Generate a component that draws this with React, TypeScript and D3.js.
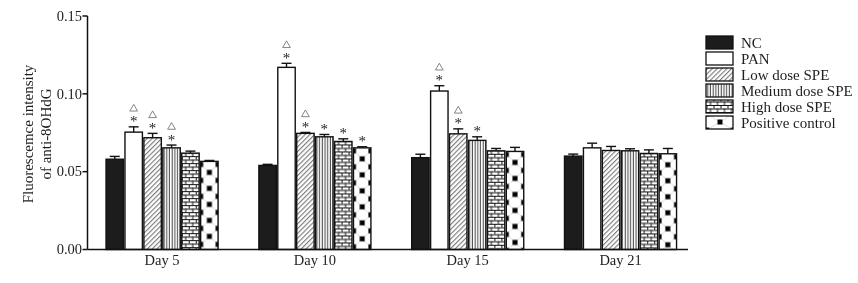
import React from 'react';
import * as d3 from 'd3';

const days = ['Day 5', 'Day 10', 'Day 15', 'Day 21'];
const seriesNames = ['NC', 'PAN', 'Low dose SPE', 'Medium dose SPE', 'High dose SPE', 'Positive control'];
const seriesKeys = ['nc', 'pan', 'low', 'med', 'high', 'pos'];

const ncValues = [0.058, 0.054, 0.059, 0.060];
const panValues = [0.0754, 0.117, 0.1018, 0.0653];
const lowValues = [0.0718, 0.0746, 0.0743, 0.0636];
const medValues = [0.0653, 0.0724, 0.0701, 0.0634];
const highValues = [0.0619, 0.0694, 0.0634, 0.0617];
const posValues = [0.0566, 0.0653, 0.063, 0.0615];

const ncErr = [0.0018, 0.0007, 0.0022, 0.0013];
const panErr = [0.0034, 0.0026, 0.0034, 0.003];
const lowErr = [0.0028, 0.0006, 0.0032, 0.0026];
const medErr = [0.0018, 0.0015, 0.0023, 0.0013];
const highErr = [0.0013, 0.0017, 0.0015, 0.0023];
const posErr = [0.0006, 0.0007, 0.0026, 0.0034];

// significance markers: * and triangle
const ncStar = [0, 0, 0, 0];
const panStar = [1, 1, 1, 0];
const lowStar = [1, 1, 1, 0];
const medStar = [1, 1, 1, 0];
const highStar = [0, 1, 0, 0];
const posStar = [0, 1, 0, 0];

const ncTri = [0, 0, 0, 0];
const panTri = [1, 1, 1, 0];
const lowTri = [1, 1, 1, 0];
const medTri = [1, 0, 0, 0];
const highTri = [0, 0, 0, 0];
const posTri = [0, 0, 0, 0];

const yTicks = [0, 0.05, 0.1, 0.15];
const yTickLabels = ['0.00', '0.05', '0.10', '0.15'];
const yLabelLines = ['Fluorescemce intensity', 'of anti-8OHdG'];

const values = [ncValues, panValues, lowValues, medValues, highValues, posValues];
const errs = [ncErr, panErr, lowErr, medErr, highErr, posErr];
const stars = [ncStar, panStar, lowStar, medStar, highStar, posStar];
const tris = [ncTri, panTri, lowTri, medTri, highTri, posTri];

const W = 858;
const H = 283;
const FONT = '"Liberation Serif", "Times New Roman", serif';
const TEXT = '#1e1e1e';

function PatternContent({ k, w, h }: { k: string; w: number; h: number }) {
  if (k === 'low') {
    return (
      <>
        <rect width={w} height={h} fill="#fff" />
        <line x1={1.5} y1={0} x2={1.5} y2={h} stroke="#444" strokeWidth={0.8} />
      </>
    );
  }
  if (k === 'med') {
    return (
      <>
        <rect width={w} height={h} fill="#fff" />
        <line x1={1.2} y1={0} x2={1.2} y2={h} stroke="#222" strokeWidth={0.9} />
      </>
    );
  }
  if (k === 'high') {
    return (
      <>
        <rect width={w} height={h} fill="#fff" />
        <line x1={0} y1={0.5} x2={w} y2={0.5} stroke="#111" strokeWidth={1} />
        <line x1={0} y1={h / 2 + 0.5} x2={w} y2={h / 2 + 0.5} stroke="#111" strokeWidth={1} />
        <line x1={0.5} y1={0} x2={0.5} y2={h / 2} stroke="#111" strokeWidth={1} />
        <line x1={w / 2 + 0.5} y1={h / 2} x2={w / 2 + 0.5} y2={h} stroke="#111" strokeWidth={1} />
      </>
    );
  }
  if (k === 'pos') {
    const s = 5;
    return (
      <>
        <rect width={w} height={h} fill="#fff" />
        <path
          d={`M0,0L${w / 2},${h / 2}L${w},0M0,${h}L${w / 2},${h / 2}L${w},${h}`}
          stroke="#c4c4c4"
          strokeWidth={0.6}
          fill="none"
        />
        {[
          [0, 0],
          [w, 0],
          [0, h],
          [w, h],
          [w / 2, h / 2],
        ].map(([cx, cy], i) => (
          <rect key={i} x={cx - s / 2} y={cy - s / 2} width={s} height={s} fill="#000" />
        ))}
      </>
    );
  }
  return null;
}

function makePattern(id: string, k: string, x: number, y: number, bw: number) {
  if (k === 'low') {
    return (
      <pattern key={id} id={id} patternUnits="userSpaceOnUse" width={3.4} height={3.4} patternTransform="rotate(45)">
        <PatternContent k={k} w={3.4} h={3.4} />
      </pattern>
    );
  }
  if (k === 'med') {
    return (
      <pattern key={id} id={id} x={x} y={y} patternUnits="userSpaceOnUse" width={2.7} height={10}>
        <PatternContent k={k} w={2.7} h={10} />
      </pattern>
    );
  }
  if (k === 'high') {
    return (
      <pattern key={id} id={id} x={x} y={y} patternUnits="userSpaceOnUse" width={7} height={7}>
        <PatternContent k={k} w={7} h={7} />
      </pattern>
    );
  }
  if (k === 'pos') {
    return (
      <pattern key={id} id={id} x={x} y={y} patternUnits="userSpaceOnUse" width={bw} height={16}>
        <PatternContent k={k} w={bw} h={16} />
      </pattern>
    );
  }
  return null;
}

function fillFor(k: string, id: string) {
  if (k === 'nc') return '#1c1c1c';
  if (k === 'pan') return '#fff';
  return `url(#${id})`;
}

export default function App() {
  const axisX = 87.5;
  const axisRight = 688;
  const y = d3.scaleLinear().domain([0, 0.15]).range([249.5, 16]);
  const x0 = d3.scaleBand<string>().domain(days).range([105.3, 677.3]).paddingInner(0.257).paddingOuter(0);
  const x1 = d3.scaleBand<string>().domain(seriesKeys).range([0, x0.bandwidth()]).padding(0);
  const bw = x1.bandwidth();

  const defs: React.ReactNode[] = [];
  const bars: React.ReactNode[] = [];
  const errBars: React.ReactNode[] = [];
  const marks: React.ReactNode[] = [];
  const triSym = d3.symbol().type(d3.symbolTriangle).size(26)();

  days.forEach((day, di) => {
    seriesKeys.forEach((k, si) => {
      const v = values[si][di];
      const e = errs[si][di];
      const bx = (x0(day) ?? 0) + (x1(k) ?? 0);
      const by = y(v);
      const id = `p-${k}-${di}`;
      const pat = makePattern(id, k, bx + 0.75, by + 3, bw - 1.5);
      if (pat) defs.push(pat);
      bars.push(
        <rect
          key={id}
          x={bx + 0.75}
          y={by}
          width={bw - 1.5}
          height={y(0) - by}
          fill={fillFor(k, id)}
          stroke="#111"
          strokeWidth={1.4}
        />
      );
      const cx = bx + bw / 2;
      const ey = y(v + e);
      errBars.push(
        <g key={`e-${id}`} stroke="#111" strokeWidth={1.4}>
          <line x1={cx} x2={cx} y1={by} y2={ey} />
          <line x1={cx - 5} x2={cx + 5} y1={ey} y2={ey} />
        </g>
      );
      if (stars[si][di]) {
        marks.push(
          <text
            key={`s-${id}`}
            x={cx}
            y={ey - 7.5 + 7}
            textAnchor="middle"
            fontFamily={FONT}
            fontSize={15}
            fill="#222"
          >
            *
          </text>
        );
      }
      if (tris[si][di]) {
        marks.push(
          <path
            key={`t-${id}`}
            d={triSym ?? ''}
            transform={`translate(${cx},${ey - 18})`}
            fill="none"
            stroke="#777"
            strokeWidth={0.9}
          />
        );
      }
    });
  });

  const legendX = 706;
  const legendY0 = 42.5;
  const legendStep = 16;
  const swW = 27;
  const swH = 13;

  seriesKeys.forEach((k, i) => {
    const id = `lg-${k}`;
    const sy = legendY0 + i * legendStep - swH / 2;
    const pat = makePattern(id, k, legendX + 0.5, sy - 2, swW);
    if (pat) defs.push(pat);
  });

  return (
    <svg
      width={W}
      height={H}
      viewBox={`0 0 ${W} ${H}`}
      style={{ position: 'absolute', left: 0, top: 0, background: '#fff', willChange: 'transform' }}
    >
      <defs>{defs}</defs>
      <rect width={W} height={H} fill="#fff" />
      {bars}
      {errBars}
      {marks}
      <line x1={axisX} x2={axisX} y1={y(0)} y2={y(0.15)} stroke="#111" strokeWidth={1.5} />
      <line x1={axisX} x2={axisRight} y1={y(0)} y2={y(0)} stroke="#111" strokeWidth={1.5} />
      {yTicks.map((t, i) => (
        <g key={`yt-${i}`}>
          <line x1={axisX - 5} x2={axisX} y1={y(t)} y2={y(t)} stroke="#111" strokeWidth={1.5} />
          <text
            x={axisX - 5.5}
            y={y(t) + 4.8}
            textAnchor="end"
            fontFamily={FONT}
            fontSize={14.5}
            fill={TEXT}
          >
            {yTickLabels[i]}
          </text>
        </g>
      ))}
      {days.map((d) => (
        <text
          key={`xt-${d}`}
          x={(x0(d) ?? 0) + x0.bandwidth() / 2}
          y={264.5}
          textAnchor="middle"
          fontFamily={FONT}
          fontSize={14.5}
          fill={TEXT}
        >
          {d}
        </text>
      ))}
      {yLabelLines.map((l, i) => (
        <text
          key={`yl-${i}`}
          transform={`translate(${32.5 + i * 18},134) rotate(-90)`}
          textAnchor="middle"
          fontFamily={FONT}
          fontSize={15}
          fill={TEXT}
        >
          {l}
        </text>
      ))}
      {seriesKeys.map((k, i) => {
        const cy = legendY0 + i * legendStep;
        return (
          <g key={`lg-${k}`}>
            <rect
              x={legendX}
              y={cy - swH / 2}
              width={swW}
              height={swH}
              fill={fillFor(k, `lg-${k}`)}
              stroke="#111"
              strokeWidth={1.3}
            />
            <text x={legendX + 35} y={cy + 5.3} fontFamily={FONT} fontSize={15} fill={TEXT}>
              {seriesNames[i]}
            </text>
          </g>
        );
      })}
    </svg>
  );
}
